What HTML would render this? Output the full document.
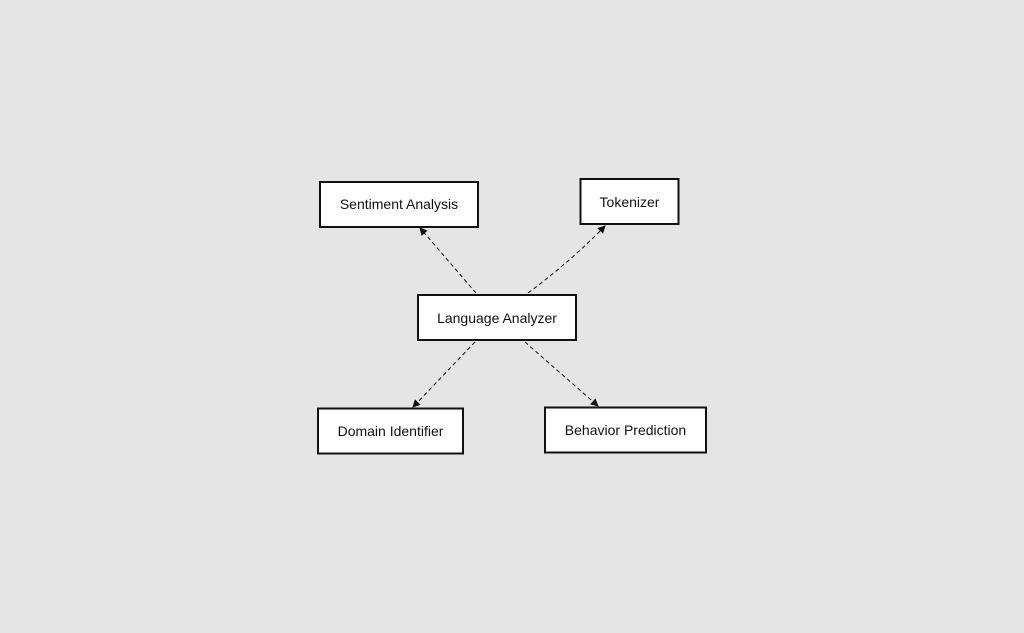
<!DOCTYPE html>
<html><head><style>
html,body{margin:0;padding:0;background:#e5e5e5;}
svg{display:block;}
text{font-family:"Liberation Sans",sans-serif;font-size:14px;fill:#111;}
</style></head><body>
<svg width="1024" height="633" viewBox="0 0 1024 633">
<defs><marker id="a" markerWidth="8" markerHeight="8" refX="7" refY="4" orient="auto" markerUnits="userSpaceOnUse"><path d="M0,0 L8,4 L0,8 z" fill="#111"/></marker></defs>
<g fill="#fff" stroke="#111" stroke-width="2">
<rect x="320" y="182" width="158" height="45"/>
<rect x="580.5" y="179" width="98" height="45"/>
<rect x="418" y="295" width="158" height="45"/>
<rect x="318" y="408.5" width="145" height="45"/>
<rect x="545" y="407.5" width="161" height="45"/>
</g>
<g stroke="#111" stroke-width="1" stroke-dasharray="4,3" fill="none">
<path d="M476,293 L420,228" marker-end="url(#a)"/>
<path d="M528,293 Q570,262 605,226" marker-end="url(#a)"/>
<path d="M475,342 L413,407" marker-end="url(#a)"/>
<path d="M525,342 L598,406" marker-end="url(#a)"/>
</g>
<g text-anchor="middle">
<text x="399" y="209">Sentiment Analysis</text>
<text x="629.5" y="207">Tokenizer</text>
<text x="497" y="323">Language Analyzer</text>
<text x="390.5" y="436">Domain Identifier</text>
<text x="625.5" y="435">Behavior Prediction</text>
</g>
</svg>
</body></html>
